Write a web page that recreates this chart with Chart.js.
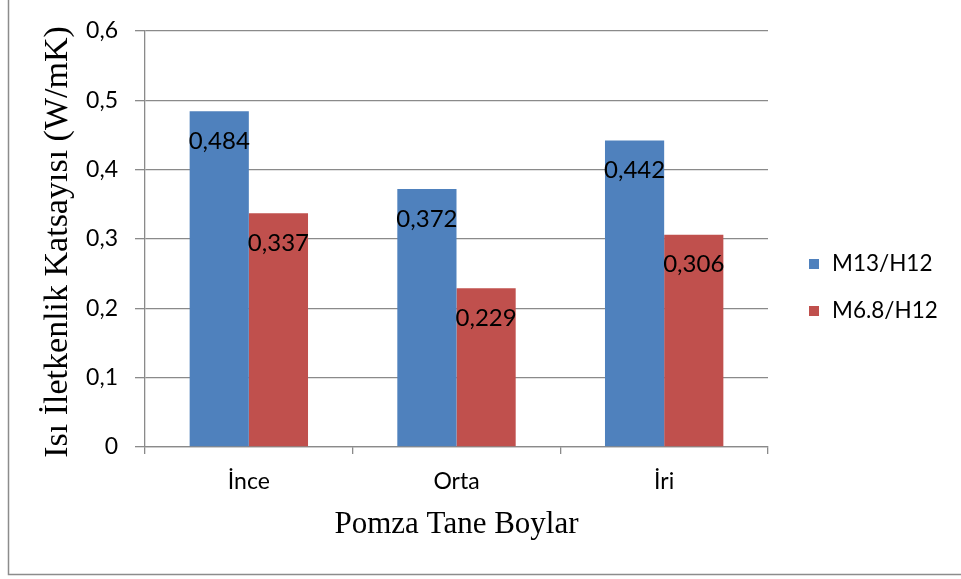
<!DOCTYPE html>
<html>
<head>
<meta charset="utf-8">
<script src="https://cdn.jsdelivr.net/npm/chart.js@4.4.0/dist/chart.umd.min.js"></script>
<style>
html,body{margin:0;padding:0;background:#fff;}
#wrap{width:961px;height:579px;position:relative;}
</style>
</head>
<body>
<div id="wrap"><canvas id="c" width="961" height="579"></canvas></div>
<script>
const categories = ['İnce', 'Orta', 'İri'];
const seriesNames = ['M13/H12', 'M6.8/H12'];
const seriesM13 = [0.484, 0.372, 0.442];
const seriesM68 = [0.337, 0.229, 0.306];
const yTicks = [0, 0.1, 0.2, 0.3, 0.4, 0.5, 0.6];
const yTitle = 'Isı İletkenlik Katsayısı (W/mK)';
const xTitle = 'Pomza Tane Boylar';

const SANS = 'Lato';
const SERIF = '"Liberation Serif", "Times New Roman", serif';
const GRID = '#8a8a8a';
const fmt = v => String(Math.round(v * 1000) / 1000).replace('.', ',');

const extras = {
  id: 'extras',
  afterDatasetsDraw(chart) {
    const ctx = chart.ctx;
    ctx.save();
    ctx.font = '24px ' + SANS;
    ctx.fillStyle = '#000';
    ctx.textAlign = 'center';
    ctx.textBaseline = 'middle';
    chart.data.datasets.forEach((ds, di) => {
      chart.getDatasetMeta(di).data.forEach((bar, i) => {
        ctx.fillText(fmt(ds.data[i]), bar.x, bar.y + 30);
      });
    });
    ctx.restore();
  },
  afterDraw(chart) {
    const ctx = chart.ctx;
    ctx.save();
    // y title
    ctx.font = '34px ' + SERIF;
    ctx.fillStyle = '#000';
    ctx.textAlign = 'center';
    ctx.textBaseline = 'middle';
    ctx.translate(58, 242);
    ctx.rotate(-Math.PI / 2);
    ctx.fillText(yTitle, 0, 0);
    ctx.restore();
    ctx.save();
    // legend
    ctx.font = '22.5px ' + SANS;
    ctx.textBaseline = 'middle';
    ctx.textAlign = 'left';
    chart.data.datasets.forEach((ds, di) => {
      const cy = 264 + di * 47;
      ctx.fillStyle = ds.backgroundColor;
      ctx.fillRect(809, cy - 5, 10, 10);
      ctx.fillStyle = '#000';
      ctx.fillText(ds.label, 832, cy);
    });
    // outer border
    ctx.strokeStyle = '#8c8c8c';
    ctx.lineWidth = 1.5;
    ctx.beginPath();
    ctx.moveTo(8.5, 0);
    ctx.lineTo(8.5, 574.5);
    ctx.lineTo(961, 574.5);
    ctx.stroke();
    ctx.restore();
  }
};

new Chart(document.getElementById('c'), {
  type: 'bar',
  data: {
    labels: categories,
    datasets: [
      { label: seriesNames[0], data: seriesM13, backgroundColor: '#4F81BD', borderWidth: 0 },
      { label: seriesNames[1], data: seriesM68, backgroundColor: '#C0504D', borderWidth: 0 }
    ]
  },
  options: {
    responsive: false,
    animation: false,
    devicePixelRatio: 1,
    layout: { padding: { left: 5, right: 193, top: 29, bottom: 5 } },
    plugins: { legend: { display: false }, tooltip: { enabled: false } },
    datasets: { bar: { categoryPercentage: 0.57, barPercentage: 1.0 } },
    scales: {
      x: {
        afterFit(s) { s.height = 127; },
        grid: { display: true, drawOnChartArea: false, drawTicks: true, tickLength: 7, color: GRID, lineWidth: 1.3 },
        border: { display: true, color: GRID, width: 1.3 },
        ticks: { color: '#000', font: { family: SANS, size: 23 }, padding: 14 },
        title: { display: true, text: xTitle, color: '#000', font: { family: SERIF, size: 31 }, padding: { top: 0, bottom: 31 } }
      },
      y: {
        min: 0, max: 0.6,
        afterFit(s) { s.width = 140; },
        afterBuildTicks(s) { s.ticks = yTicks.map(v => ({ value: v })); },
        grid: { color: GRID, lineWidth: 1.3, tickLength: 10 },
        border: { display: true, color: GRID, width: 1.3 },
        ticks: { color: '#000', font: { family: SANS, size: 23 }, padding: 17, callback: v => fmt(v) },
        title: { display: false }
      }
    }
  },
  plugins: [extras]
});
</script>
</body>
</html>
